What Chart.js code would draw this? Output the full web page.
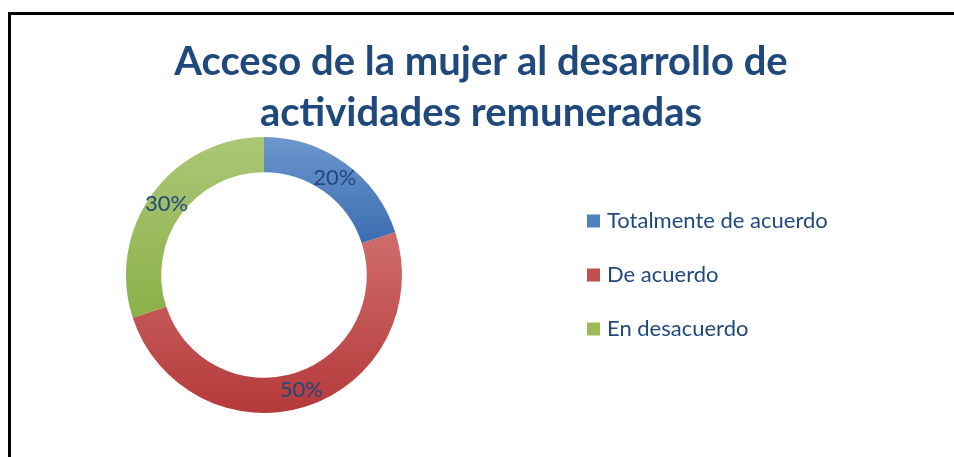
<!DOCTYPE html>
<html>
<head>
<meta charset="utf-8">
<title>Acceso de la mujer al desarrollo de actividades remuneradas</title>
<script src="https://cdn.jsdelivr.net/npm/chart.js@4.4.1/dist/chart.umd.min.js"></script>
<style>
    html, body { margin: 0; padding: 0; background: #fff; overflow: hidden; }
    #wrap { position: relative; width: 954px; height: 457px; }
</style>
</head>
<body>
<div id="wrap"><canvas id="accesoChart"></canvas></div>
<script>
// --- datos ---
const categories = ['Totalmente de acuerdo', 'De acuerdo', 'En desacuerdo'];
const values = [20, 50, 30];
const titleLines = ['Acceso de la mujer al desarrollo de', 'actividades remuneradas'];

// colores (claro arriba, oscuro abajo)
const colorTop    = ['#6C97CE', '#CF6D6B', '#ACC777'];
const colorBottom = ['#3C6DB1', '#B5393A', '#8BB049'];
const colorBase   = ['#4F81BD', '#C0504D', '#9BBB59'];
const textColor = '#1F497D';

// posiciones del dibujo
const PLOT = { left: 126, top: 137, size: 276 };
const LEGEND_LEFT = 559;
const FRAME = { left: 8, top: 12, width: 3 };

Chart.defaults.font.family = "Lato, 'Open Sans', sans-serif";

// marco negro (solo lados superior e izquierdo quedan dentro de la imagen)
const frameLines = {
    id: 'frameLines',
    beforeDraw(chart) {
        const ctx = chart.ctx;
        ctx.save();
        ctx.fillStyle = '#000';
        ctx.fillRect(FRAME.left, FRAME.top, chart.width - FRAME.left, FRAME.width);
        ctx.fillRect(FRAME.left, FRAME.top, FRAME.width, chart.height - FRAME.top);
        ctx.restore();
    }
};

// coloca el área del anillo y la leyenda como en el original
const placeBoxes = {
    id: 'placeBoxes',
    afterLayout(chart) {
        const ca = chart.chartArea;
        ca.left = PLOT.left; ca.right = PLOT.left + PLOT.size;
        ca.top = PLOT.top; ca.bottom = PLOT.top + PLOT.size;
        ca.width = PLOT.size; ca.height = PLOT.size;

        const lg = chart.legend;
        lg.left = LEGEND_LEFT; lg.right = chart.width;
        lg.width = lg.right - lg.left;
        lg.top = ca.top; lg.bottom = ca.bottom; lg.height = ca.height;
    }
};

// degradado vertical por sector
const sliceGradient = {
    id: 'sliceGradient',
    beforeDatasetsDraw(chart) {
        const ctx = chart.ctx;
        chart.getDatasetMeta(0).data.forEach((arc, i) => {
            let minY = Infinity, maxY = -Infinity;
            for (let s = 0; s <= 60; s++) {
                const a = arc.startAngle + (arc.endAngle - arc.startAngle) * s / 60;
                [arc.innerRadius, arc.outerRadius].forEach(r => {
                    const yy = arc.y + r * Math.sin(a);
                    minY = Math.min(minY, yy);
                    maxY = Math.max(maxY, yy);
                });
            }
            const g = ctx.createLinearGradient(0, minY, 0, maxY);
            g.addColorStop(0, colorTop[i]);
            g.addColorStop(1, colorBottom[i]);
            arc.options.backgroundColor = g;
        });
    }
};

// porcentajes sobre el anillo
const pctLabels = {
    id: 'pctLabels',
    afterDatasetsDraw(chart) {
        const ctx = chart.ctx;
        ctx.save();
        ctx.font = "22px Lato, 'Open Sans', sans-serif";
        ctx.fillStyle = textColor;
        ctx.textAlign = 'center';
        ctx.textBaseline = 'middle';
        chart.getDatasetMeta(0).data.forEach((arc, i) => {
            const p = arc.tooltipPosition();
            ctx.fillText(values[i] + '%', p.x, p.y);
        });
        ctx.restore();
    }
};

new Chart(document.getElementById('accesoChart'), {
    type: 'doughnut',
    data: {
        labels: categories,
        datasets: [{
            data: values,
            backgroundColor: colorBase,
            borderWidth: 0,
            hoverOffset: 0
        }]
    },
    options: {
        responsive: true,
        maintainAspectRatio: false,
        animation: false,
        cutout: '74.5%',
        layout: { padding: { left: 8, right: 0, top: 16, bottom: 4 } },
        plugins: {
            tooltip: { enabled: false },
            title: {
                display: true,
                text: titleLines,
                color: textColor,
                font: { size: 40, weight: 'bold', lineHeight: '51px' },
                padding: { top: 21, bottom: 6 }
            },
            legend: {
                position: 'right',
                align: 'center',
                maxWidth: 100,
                labels: {
                    color: textColor,
                    font: { size: 22 },
                    boxWidth: 5,
                    boxHeight: 5,
                    padding: 32,
                    generateLabels(chart) {
                        const items = Chart.overrides.doughnut.plugins.legend.labels.generateLabels(chart);
                        return items.map((it, i) => Object.assign(it, {
                            fillStyle: colorBase[i],
                            strokeStyle: colorBase[i],
                            lineWidth: 8
                        }));
                    }
                }
            }
        }
    },
    plugins: [frameLines, placeBoxes, sliceGradient, pctLabels]
});
</script>
</body>
</html>
